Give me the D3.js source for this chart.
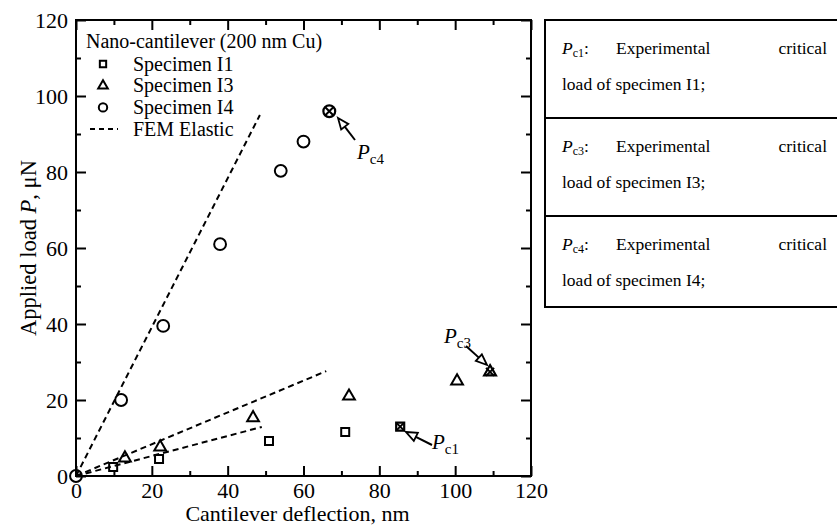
<!DOCTYPE html>
<html><head><meta charset="utf-8">
<script src="https://cdn.jsdelivr.net/npm/d3@7"></script>
<style>body{margin:0;background:#fff;} svg{display:block;} text{font-family:"Liberation Serif","Times New Roman",serif;fill:#000;}</style>
</head><body>
<svg id="c" width="837" height="529"></svg>
<script>
// ---- data ----
const specimenI1 = [[9.8,2.4],[21.9,4.5],[50.9,9.2],[71,11.6]];
const specimenI3 = [[12.9,4.7],[22.2,7.6],[46.7,15.3],[72,21],[100.5,25]];
const specimenI4 = [[0,0],[11.9,20],[23,39.5],[38,61],[54,80.3],[60,88]];
const criticalPoints = [
  {name:"c1", shape:"square", x:85.5, y:13},
  {name:"c3", shape:"triangle", x:109.2, y:27.4},
  {name:"c4", shape:"circle", x:66.8, y:96}
];
const femLines = [
  [[0,0],[48.5,95]],
  [[0,0],[66,27.6]],
  [[0,0],[49,12.9]]
];
const xMajorTicks = [0,20,40,60,80,100,120];
const yMajorTicks = [0,20,40,60,80,100,120];
const minorTicks = [10,30,50,70,90,110];
const legendTitle = "Nano-cantilever (200 nm Cu)";
const legendLabels = ["Specimen I1","Specimen I3","Specimen I4","FEM Elastic"];
const tableRows = [
  {sub:"c1", spec:"I1"},
  {sub:"c3", spec:"I3"},
  {sub:"c4", spec:"I4"}
];

// ---- layout ----
const svg = d3.select("#c");
const L=76, R=531, T=20, B=476;
const x = d3.scaleLinear().domain([0,120]).range([L,R]);
const y = d3.scaleLinear().domain([0,120]).range([B,T]);
const FONT = "Liberation Serif";

// frame
svg.append("rect").attr("x",L).attr("y",T).attr("width",R-L).attr("height",B-T)
  .attr("fill","none").attr("stroke","#000").attr("stroke-width",2);

const tickFont = "22px";
function clean(g){ g.select(".domain").remove(); g.selectAll("line").attr("stroke-width",2); return g; }
// bottom axis
const gx = clean(svg.append("g").attr("transform",`translate(0,${B})`)
  .call(d3.axisBottom(x).tickValues(xMajorTicks).tickSize(-10).tickPadding(6).tickFormat(d3.format("d"))));
gx.selectAll("text").style("font-size",tickFont).style("font-family",FONT);
clean(svg.append("g").attr("transform",`translate(0,${B})`)
  .call(d3.axisBottom(x).tickValues(minorTicks).tickSize(-5).tickFormat("")));
// top mirror
clean(svg.append("g").attr("transform",`translate(0,${T})`)
  .call(d3.axisTop(x).tickValues(xMajorTicks).tickSize(-10).tickFormat("")));
clean(svg.append("g").attr("transform",`translate(0,${T})`)
  .call(d3.axisTop(x).tickValues(minorTicks).tickSize(-5).tickFormat("")));
// left axis
const gy = clean(svg.append("g").attr("transform",`translate(${L},0)`)
  .call(d3.axisLeft(y).tickValues(yMajorTicks).tickSize(-10).tickPadding(8).tickFormat(d3.format("d"))));
gy.selectAll("text").style("font-size",tickFont).style("font-family",FONT);
clean(svg.append("g").attr("transform",`translate(${L},0)`)
  .call(d3.axisLeft(y).tickValues(minorTicks).tickSize(-5).tickFormat("")));
// right mirror
clean(svg.append("g").attr("transform",`translate(${R},0)`)
  .call(d3.axisRight(y).tickValues(yMajorTicks).tickSize(-10).tickFormat("")));
clean(svg.append("g").attr("transform",`translate(${R},0)`)
  .call(d3.axisRight(y).tickValues(minorTicks).tickSize(-5).tickFormat("")));

// axis titles
svg.append("text").attr("x",(L+R)/2-6).attr("y",521).attr("text-anchor","middle")
  .style("font-size","22px").text("Cantilever deflection, nm");
const yt = svg.append("text").attr("transform",`translate(36,${(T+B)/2}) rotate(-90)`)
  .attr("text-anchor","middle").style("font-size","22.5px");
yt.append("tspan").text("Applied load ");
yt.append("tspan").style("font-style","italic").text("P");
yt.append("tspan").text(", μN");

// FEM dashed lines
const line = d3.line().x(d=>x(d[0])).y(d=>y(d[1]));
svg.selectAll(".fem").data(femLines).join("path").attr("class","fem")
  .attr("d",line).attr("fill","none").attr("stroke","#000").attr("stroke-width",2)
  .attr("stroke-dasharray","6,4");

// markers
const sym = {
  square: d3.symbol().type(d3.symbolSquare).size(64),
  triangle: d3.symbol().type(d3.symbolTriangle).size(60),
  circle: d3.symbol().type(d3.symbolCircle).size(110)
};
function drawSeries(data, shape){
  svg.append("g").selectAll("path").data(data).join("path")
    .attr("transform",d=>`translate(${x(d[0])},${y(d[1])})`)
    .attr("d",sym[shape]()).attr("fill","none").attr("stroke","#000").attr("stroke-width",2);
}
drawSeries(specimenI1,"square");
drawSeries(specimenI3,"triangle");
drawSeries(specimenI4,"circle");

// critical points (marker with X)
const cg = svg.append("g").selectAll("g").data(criticalPoints).join("g")
  .attr("transform",d=>`translate(${x(d.x)},${y(d.y)})`);
cg.append("path").attr("d",d=>sym[d.shape]()).attr("fill","none").attr("stroke","#000").attr("stroke-width",2.2);
cg.append("path").attr("d","M-4,-4L4,4M-4,4L4,-4").attr("stroke","#000").attr("stroke-width",2);

// arrows with open heads
const arrows = [
  {from:[355,140], to:[338,118]},
  {from:[466,346], to:[487,365]},
  {from:[432,445], to:[406,432]}
];
arrows.forEach(a=>{
  const dx=a.to[0]-a.from[0], dy=a.to[1]-a.from[1];
  const len=Math.hypot(dx,dy), ux=dx/len, uy=dy/len;
  const hl=11, hw=4.5;
  const bx=a.to[0]-ux*hl, by=a.to[1]-uy*hl;
  svg.append("line").attr("x1",a.from[0]).attr("y1",a.from[1]).attr("x2",bx).attr("y2",by)
    .attr("stroke","#000").attr("stroke-width",2);
  svg.append("path").attr("d",`M${a.to[0]},${a.to[1]}L${bx-uy*hw},${by+ux*hw}L${bx+uy*hw},${by-ux*hw}Z`)
    .attr("fill","#fff").attr("stroke","#000").attr("stroke-width",1.8);
});
function pLabel(g, px, py, sub, size, subSize, subDy){
  const t = g.append("text").attr("x",px).attr("y",py).style("font-size",size+"px");
  t.append("tspan").style("font-style","italic").text("P");
  t.append("tspan").attr("dy",subDy).style("font-size",subSize+"px").text(sub);
  return t;
}
pLabel(svg,357,159,"c4",21,15,5);
pLabel(svg,444,343,"c3",21,15,5);
pLabel(svg,432,449,"c1",21,15,5);

// legend
svg.append("text").attr("x",86).attr("y",48).style("font-size","20px").text(legendTitle);
const legShapes = ["square","triangle","circle"];
const legSym = {
  square: d3.symbol().type(d3.symbolSquare).size(40),
  triangle: d3.symbol().type(d3.symbolTriangle).size(40),
  circle: d3.symbol().type(d3.symbolCircle).size(55)
};
legendLabels.forEach((lab,i)=>{
  const cy = 64 + i*21.7;
  if(i<3){
    svg.append("path").attr("transform",`translate(103,${cy})`).attr("d",legSym[legShapes[i]]())
      .attr("fill","none").attr("stroke","#000").attr("stroke-width",2);
  } else {
    svg.append("line").attr("x1",90).attr("x2",118).attr("y1",cy).attr("y2",cy)
      .attr("stroke","#000").attr("stroke-width",2).attr("stroke-dasharray","5,4");
  }
  svg.append("text").attr("x",133).attr("y",cy+6.5).style("font-size","20px").text(lab);
});

// table on the right
const tg = svg.append("g");
const rowTops=[20,118,216], tBottom=307, tLeft=545;
tg.append("line").attr("x1",tLeft).attr("x2",tLeft).attr("y1",19).attr("y2",tBottom+1).attr("stroke","#000").attr("stroke-width",2);
[20,118,216,307].forEach(yy=>{
  tg.append("line").attr("x1",tLeft).attr("x2",837).attr("y1",yy).attr("y2",yy).attr("stroke","#000").attr("stroke-width",2);
});
tableRows.forEach((r,i)=>{
  const top=rowTops[i];
  const t = pLabel(tg,562,top+34,r.sub,17.5,12,3);
  t.append("tspan").attr("dy",-3).style("font-size","17.5px").text(":");
  tg.append("text").attr("x",616).attr("y",top+34).style("font-size","17.5px").text("Experimental");
  tg.append("text").attr("x",827).attr("y",top+34).attr("text-anchor","end").style("font-size","17.5px").text("critical");
  tg.append("text").attr("x",562).attr("y",top+70).style("font-size","17.5px").text("load of specimen "+r.spec+";");
});
</script>
</body></html>
